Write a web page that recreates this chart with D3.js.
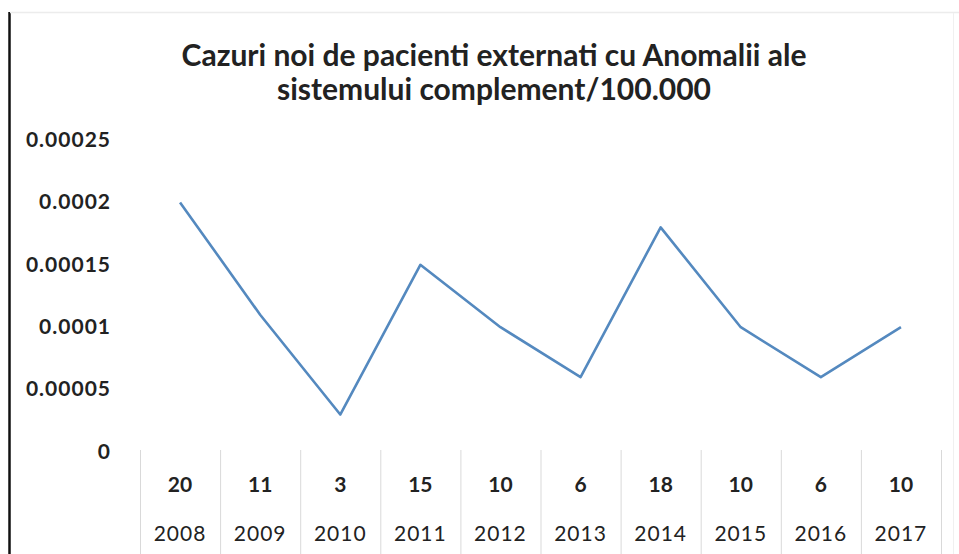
<!DOCTYPE html>
<html><head><meta charset="utf-8">
<script src="https://cdn.jsdelivr.net/npm/d3@7"></script>
<style>body{margin:0;background:#fff}svg{display:block}</style>
</head><body>
<svg id="c" width="959" height="554"></svg>
<script>
const years = ["2008","2009","2010","2011","2012","2013","2014","2015","2016","2017"];
const cases = [20,11,3,15,10,6,18,10,6,10];
const rates = [0.0002,0.00011,0.00003,0.00015,0.0001,0.00006,0.00018,0.0001,0.00006,0.0001];
const yTicks = [0,0.00005,0.0001,0.00015,0.0002,0.00025];
const yTickLabels = ["0","0.00005","0.0001","0.00015","0.0002","0.00025"];
const titleLines = ["Cazuri noi de pacienti externati cu Anomalii ale","sistemului complement/100.000"];

const svg = d3.select("#c");
const font = "Lato, 'Open Sans', sans-serif";
// frame
svg.append("line").attr("x1",9.5).attr("x2",9.5).attr("y1",12).attr("y2",554).attr("stroke","#111").attr("stroke-width",2.5);
svg.append("line").attr("x1",10).attr("x2",959).attr("y1",12.5).attr("y2",12.5).attr("stroke","#ececec").attr("stroke-width",1.5);
svg.append("line").attr("x1",953.5).attr("x2",953.5).attr("y1",13).attr("y2",554).attr("stroke","#f0f0f0").attr("stroke-width",1);

const x = d3.scaleBand().domain(years).range([140,941]);
const y = d3.scaleLinear().domain([0,0.00025]).range([452,140]);

// title
svg.append("g").selectAll("text").data(titleLines).join("text")
  .attr("x",494).attr("y",(d,i)=>66+i*34).attr("text-anchor","middle")
  .attr("font-family",font).attr("font-weight","bold").attr("font-size",30).attr("fill","#222")
  .text(d=>d);

// y axis labels
const yAxis = d3.axisLeft(y).tickValues(yTicks).tickFormat((d,i)=>yTickLabels[i]).tickSize(0).tickPadding(0);
const ya = svg.append("g").attr("transform","translate(111,0)").call(yAxis);
ya.select(".domain").remove();
ya.selectAll("text").attr("font-family",font).attr("font-weight","bold").attr("font-size",21)
  .attr("letter-spacing","1px").attr("fill","#222").attr("dy","0.3em");

// table
const tb = svg.append("g");
const bounds = years.map(d=>x(d)).concat([x.range()[1]]);
tb.selectAll("line.v").data(bounds).join("line").attr("class","v")
  .attr("x1",d=>d+0.5).attr("x2",d=>d+0.5).attr("y1",450).attr("y2",554)
  .attr("stroke","#d9d9d9").attr("stroke-width",1);
tb.selectAll("text.n").data(cases).join("text").attr("class","n")
  .attr("x",(d,i)=>x(years[i])+x.bandwidth()/2).attr("y",492).attr("text-anchor","middle")
  .attr("font-family",font).attr("font-weight","bold").attr("font-size",21).attr("fill","#222").text(d=>d);
tb.selectAll("text.yr").data(years).join("text").attr("class","yr")
  .attr("x",d=>x(d)+x.bandwidth()/2).attr("y",541).attr("text-anchor","middle")
  .attr("font-family",font).attr("font-size",21).attr("letter-spacing","1px").attr("fill","#222").text(d=>d);

// line
const line = d3.line().x((d,i)=>x(years[i])+x.bandwidth()/2).y(d=>y(d));
svg.append("path").datum(rates).attr("d",line).attr("fill","none")
  .attr("stroke","#5489bf").attr("stroke-width",2.6).attr("stroke-linejoin","round");
</script>
</body></html>
